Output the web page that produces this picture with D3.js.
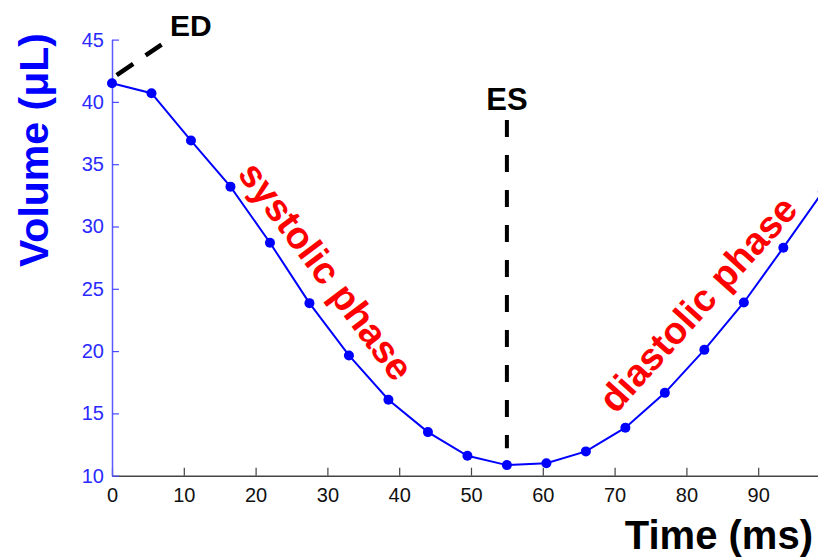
<!DOCTYPE html>
<html>
<head>
<meta charset="utf-8">
<script src="https://cdn.jsdelivr.net/npm/d3@7"></script>
<style>
  html, body { margin: 0; padding: 0; background: #fff; }
  svg { display: block; font-family: "Liberation Sans", Arial, sans-serif; }
</style>
</head>
<body>
<svg id="chart"></svg>
<script>
// Sampled volume curve (time in ms, volume in µL)
const times = [0, 5.5, 11, 16.5, 22, 27.5, 33, 38.5, 44, 49.5, 55, 60.5, 66, 71.5, 77, 82.5, 88, 93.5, 99];
const volumes = [41.5, 40.7, 36.9, 33.2, 28.7, 23.85, 19.65, 16.1, 13.5, 11.6, 10.85, 11.0, 11.95, 13.85, 16.65, 20.1, 23.9, 28.3, 32.8];

// Tick labels
const xTicks = [0, 10, 20, 30, 40, 50, 60, 70, 80, 90];
const yTicks = [10, 15, 20, 25, 30, 35, 40, 45];

// Annotation anchors (data units)
const edLine = [[0.65, 42.15], [6.9, 44.6]];
const esTime = 55;
const esRange = [38.55, 12.2];

const width = 818, height = 558;
const x0 = 112, xRight = 830, yTop = 39.6, yBottom = 475.7;

const svg = d3.select("#chart")
  .attr("width", width)
  .attr("height", height);

const x = d3.scaleLinear().domain([0, 100]).range([x0, xRight]);
const y = d3.scaleLinear().domain([10, 45]).range([yBottom, yTop]);

const data = times.map((t, i) => ({ t: t, v: volumes[i] }));

// X axis (ticks pointing inward)
const xAxis = svg.append("g")
  .attr("transform", `translate(0, ${ yBottom })`)
  .call(d3.axisBottom(x).tickValues(xTicks).tickSizeInner(-8).tickSizeOuter(0).tickPadding(12));
xAxis.select(".domain").attr("stroke", "#444").attr("stroke-width", 1.5);
xAxis.selectAll(".tick line").attr("stroke", "#444").attr("stroke-width", 1.2);
xAxis.selectAll(".tick text")
  .attr("fill", "#111")
  .style("font-size", "20px");

// Y axis in blue
const yAxis = svg.append("g")
  .attr("transform", `translate(${ x0 }, 0)`)
  .call(d3.axisLeft(y).tickValues(yTicks).tickSizeInner(-7).tickSizeOuter(0).tickPadding(8));
yAxis.select(".domain").attr("stroke", "#5a5aff").attr("stroke-width", 1.5);
yAxis.selectAll(".tick line").attr("stroke", "#4a4aff").attr("stroke-width", 1.2);
yAxis.selectAll(".tick text")
  .attr("fill", "#2a2aff")
  .style("font-size", "20px");

// Curve
const line = d3.line().x(d => x(d.t)).y(d => y(d.v));
svg.append("path")
  .datum(data)
  .attr("d", line)
  .attr("fill", "none")
  .attr("stroke", "#0000ff")
  .attr("stroke-width", 2);

svg.selectAll("circle.pt")
  .data(data)
  .join("circle")
  .attr("class", "pt")
  .attr("cx", d => x(d.t))
  .attr("cy", d => y(d.v))
  .attr("r", 5)
  .attr("fill", "#0000ff");

// ED and ES dashed markers
svg.append("line")
  .attr("x1", x(edLine[0][0])).attr("y1", y(edLine[0][1]))
  .attr("x2", x(edLine[1][0])).attr("y2", y(edLine[1][1]))
  .attr("stroke", "#000")
  .attr("stroke-width", 4.5)
  .attr("stroke-dasharray", "20,15");

svg.append("line")
  .attr("x1", x(esTime)).attr("y1", y(esRange[0]))
  .attr("x2", x(esTime)).attr("y2", y(esRange[1]))
  .attr("stroke", "#000")
  .attr("stroke-width", 4)
  .attr("stroke-dasharray", "17,18");

svg.append("text")
  .attr("x", 170).attr("y", 36)
  .attr("font-size", 30)
  .attr("font-weight", "bold")
  .attr("fill", "#000")
  .text("ED");

svg.append("text")
  .attr("x", x(esTime))
  .attr("y", 110)
  .attr("text-anchor", "middle")
  .attr("font-size", 31)
  .attr("font-weight", "bold")
  .attr("fill", "#000")
  .text("ES");

// Phase labels
svg.append("text")
  .attr("transform", "translate(326, 271) rotate(53)")
  .attr("text-anchor", "middle")
  .attr("dominant-baseline", "central")
  .attr("font-size", 38)
  .attr("font-weight", "bold")
  .attr("fill", "#ff0000")
  .text("systolic phase");

svg.append("text")
  .attr("transform", "translate(698, 304) rotate(-48)")
  .attr("text-anchor", "middle")
  .attr("dominant-baseline", "central")
  .attr("font-size", 38)
  .attr("font-weight", "bold")
  .attr("fill", "#ff0000")
  .text("diastolic phase");

// Axis titles
svg.append("text")
  .attr("transform", "translate(48, 150) rotate(-90)")
  .attr("text-anchor", "middle")
  .attr("font-size", 41)
  .attr("font-weight", "bold")
  .attr("fill", "#0000ff")
  .text("Volume (μL)");

svg.append("text")
  .attr("x", 813).attr("y", 549)
  .attr("text-anchor", "end")
  .attr("font-size", 40)
  .attr("font-weight", "bold")
  .attr("fill", "#000")
  .text("Time (ms)");
</script>
</body>
</html>
